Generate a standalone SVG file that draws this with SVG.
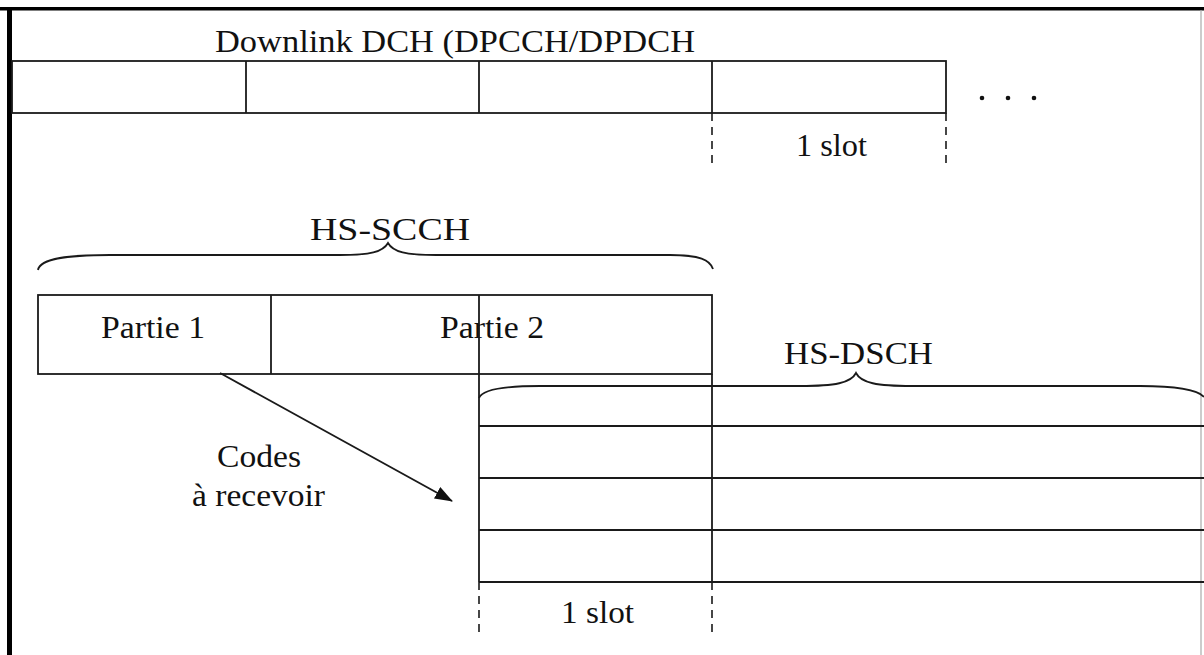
<svg xmlns="http://www.w3.org/2000/svg" width="1204" height="655" viewBox="0 0 1204 655">
<style>
.t{font-family:"Liberation Serif","Times New Roman",serif;font-size:32px;fill:#111;}
.ln{stroke:#1a1a1a;stroke-width:1.8;fill:none;}
.dash{stroke:#1a1a1a;stroke-width:1.6;stroke-dasharray:8,6;fill:none;}
.br{stroke:#1a1a1a;stroke-width:1.8;fill:none;}
</style>
<defs>
<marker id="ah" markerWidth="18" markerHeight="13" refX="17" refY="6.5" orient="auto" markerUnits="userSpaceOnUse" viewBox="0 0 18 13">
<path d="M0,0 L18,6.5 L0,13 z" fill="#111"/>
</marker>
</defs>
<rect width="1204" height="655" fill="#fff"/>
<g id="frame">
<rect x="0" y="7" width="1204" height="3.5" fill="#000"/>
<rect x="7" y="7" width="5" height="648" fill="#000"/>
<line x1="1201" y1="10" x2="1201" y2="655" stroke="#aaa" stroke-width="1.2"/>
</g>
<g id="dch">
<text class="t" x="215" y="52" textLength="480" lengthAdjust="spacingAndGlyphs">Downlink DCH (DPCCH/DPDCH</text>
<rect class="ln" x="12" y="61" width="934" height="52"/>
<line class="ln" x1="246" y1="61" x2="246" y2="113"/>
<line class="ln" x1="479" y1="61" x2="479" y2="113"/>
<line class="ln" x1="712" y1="61" x2="712" y2="113"/>
<circle cx="982" cy="98" r="2.3" fill="#111"/>
<circle cx="1008" cy="98" r="2.3" fill="#111"/>
<circle cx="1034" cy="98" r="2.3" fill="#111"/>
</g>
<g id="slot-top">
<line class="dash" x1="712" y1="113" x2="712" y2="167"/>
<line class="dash" x1="946" y1="113" x2="946" y2="167"/>
<text class="t" x="796" y="156" textLength="71" lengthAdjust="spacingAndGlyphs">1 slot</text>
</g>
<g id="hs-scch">
<text class="t" x="310" y="240" textLength="160" lengthAdjust="spacingAndGlyphs">HS-SCCH</text>
<path class="br" d="M38,270 C40,258 70,255 110,255 L340,255 C370,255 383,252 388,243 C393,252 406,255 436,255 L670,255 C700,255 710,260 713,269"/>
<rect class="ln" x="38" y="295" width="674" height="79"/>
<line class="ln" x1="271" y1="295" x2="271" y2="374"/>
<text class="t" x="101" y="338" textLength="104" lengthAdjust="spacingAndGlyphs">Partie 1</text>
<text class="t" x="440" y="338" textLength="104" lengthAdjust="spacingAndGlyphs">Partie 2</text>
</g>
<g id="hs-dsch">
<text class="t" x="784" y="364" textLength="149" lengthAdjust="spacingAndGlyphs">HS-DSCH</text>
<path class="br" d="M479,398 C482,390 500,386 540,386 L800,386 C835,386 851,383 856,373 C861,383 877,386 912,386 L1140,386 C1180,386 1198,390 1204,397"/>
<line class="ln" x1="479" y1="295" x2="479" y2="582"/>
<line class="ln" x1="712" y1="374" x2="712" y2="582"/>
<line class="ln" x1="479" y1="426" x2="1204" y2="426"/>
<line class="ln" x1="479" y1="478" x2="1204" y2="478"/>
<line class="ln" x1="479" y1="530" x2="1204" y2="530"/>
<line class="ln" x1="479" y1="582" x2="1204" y2="582"/>
</g>
<g id="slot-bottom">
<line class="dash" x1="479" y1="582" x2="479" y2="634"/>
<line class="dash" x1="712" y1="582" x2="712" y2="634"/>
<text class="t" x="561" y="623" textLength="73" lengthAdjust="spacingAndGlyphs">1 slot</text>
</g>
<g id="codes-label">
<text class="t" x="217" y="467" textLength="84" lengthAdjust="spacingAndGlyphs">Codes</text>
<text class="t" x="192" y="506" textLength="133" lengthAdjust="spacingAndGlyphs">à recevoir</text>
</g>
<g id="connectors">
<line class="ln" x1="220" y1="373" x2="452" y2="501" marker-end="url(#ah)"/>
</g>
</svg>
